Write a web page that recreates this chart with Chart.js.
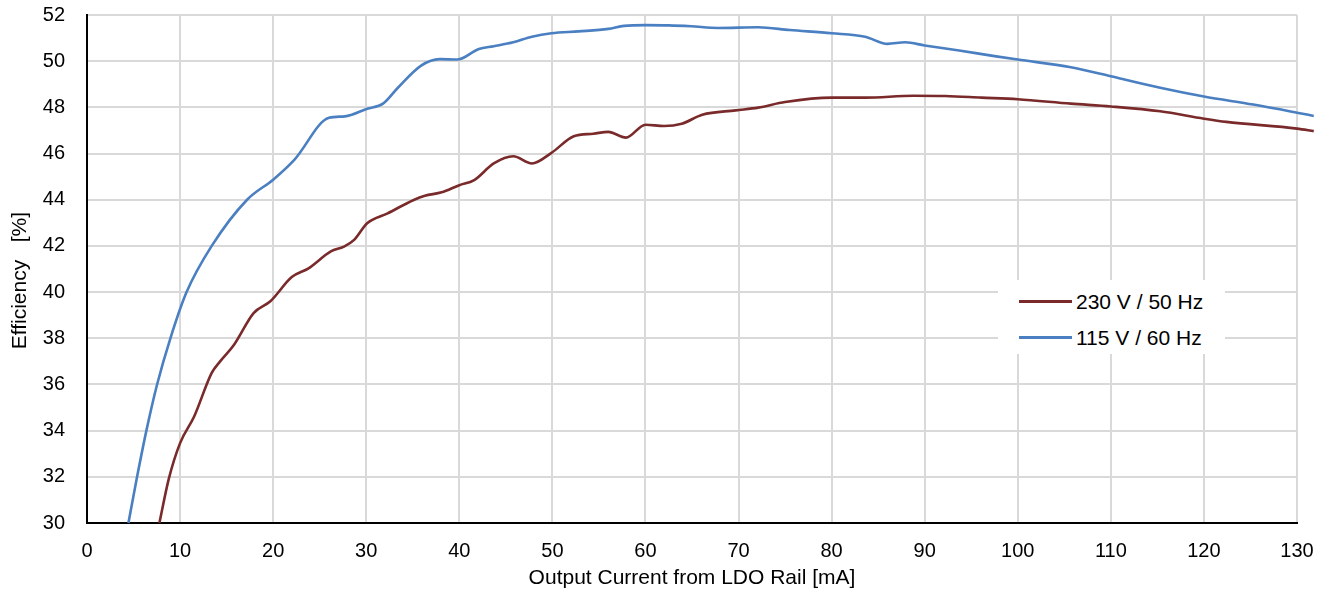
<!DOCTYPE html>
<html>
<head>
<meta charset="utf-8">
<script src="https://cdn.jsdelivr.net/npm/chart.js@4.4.1/dist/chart.umd.min.js"></script>
<style>
  html, body { margin: 0; padding: 0; background: #fff; }
  #wrap { position: relative; width: 1325px; height: 597px; }
  #legend { position: absolute; left: 998px; top: 280px; width: 227px; height: 74px; background: #fff;
            font-family: "Liberation Sans", Arial, Helvetica, sans-serif; font-size: 21px; color: #000; }
  .row { position: absolute; left: 0; height: 24px; width: 100%; }
  .swatch { position: absolute; left: 21px; width: 53px; height: 3px; top: 10px; }
  .lbl { position: absolute; left: 78px; top: 0; line-height: 24px; white-space: nowrap; }
</style>
</head>
<body>
<div id="wrap">
  <canvas id="c" width="1325" height="597"></canvas>
  <div id="legend"></div>
</div>
<script>
// ---- data ----
const seriesNames = ["230 V / 50 Hz", "115 V / 60 Hz"];
const seriesColors = ["#7a2a2a", "#4a7fc1"];

const redX = [7.78, 8.78, 10.0, 11.5, 13.4, 14.3, 15.8, 17.9, 19.7, 22.0, 23.8, 26.2, 27.6, 28.7, 30.1, 32.3, 35.1, 36.3, 38.1, 40, 41.6, 43.7, 45.8, 47.8, 49.9, 52.3, 54.4, 56.0, 57.9, 60, 62, 63.9, 66.1, 69.7, 72.1, 75.0, 80, 83.6, 88.8, 92.2, 96.1, 100, 105.7, 110, 115.3, 120, 122.4, 130, 131.8];
const redY = [30, 31.9, 33.46, 34.6, 36.5, 37.0, 37.72, 39.09, 39.6, 40.65, 41.03, 41.76, 41.97, 42.26, 42.98, 43.41, 43.99, 44.17, 44.32, 44.63, 44.85, 45.57, 45.88, 45.57, 46.03, 46.75, 46.86, 46.94, 46.69, 47.25, 47.19, 47.29, 47.68, 47.87, 47.99, 48.23, 48.42, 48.42, 48.50, 48.49, 48.42, 48.35, 48.16, 48.04, 47.83, 47.51, 47.37, 47.08, 46.97];

const blueX = [4.45, 5.38, 6.38, 7.53, 8.96, 10.7, 13.4, 17.2, 20, 22.3, 26.0, 27.7, 30.1, 31.8, 33.4, 35.9, 37.9, 39.8, 42.1, 43.7, 45.8, 47.8, 49.9, 52.8, 56.0, 57.7, 60, 62.5, 64.9, 67.8, 72.1, 75.5, 80, 83.6, 86.0, 87.9, 90, 93.7, 97.5, 100, 105.7, 110, 115.3, 120, 125.3, 130, 131.8];
const blueY = [30.0, 32, 34, 36, 38, 40, 42, 44, 44.87, 45.74, 47.55, 47.61, 47.94, 48.16, 48.85, 49.81, 50.09, 50.07, 50.53, 50.65, 50.82, 51.06, 51.21, 51.29, 51.40, 51.53, 51.56, 51.55, 51.51, 51.44, 51.47, 51.35, 51.21, 51.06, 50.75, 50.82, 50.68, 50.46, 50.22, 50.07, 49.74, 49.35, 48.85, 48.47, 48.12, 47.77, 47.63];

const xMin = 0, xMax = 130, xStep = 10;
const yMin = 30, yMax = 52, yStep = 2;
const xTitle = "Output Current from LDO Rail [mA]";
const yTitle = "Efficiency   [%]    ";

const FONT = "'Liberation Sans', Arial, Helvetica, sans-serif";

function pts(xs, ys) { return xs.map((x, i) => ({ x: x, y: ys[i] })); }

const datasets = [
  { label: seriesNames[0], data: pts(redX, redY), borderColor: seriesColors[0] },
  { label: seriesNames[1], data: pts(blueX, blueY), borderColor: seriesColors[1] }
].map(d => Object.assign(d, {
  borderWidth: 2.6, pointRadius: 0, fill: false, showLine: true,
  cubicInterpolationMode: 'monotone', clip: false
}));

new Chart(document.getElementById('c'), {
  type: 'scatter',
  data: { datasets: datasets },
  options: {
    responsive: false,
    animation: false,
    devicePixelRatio: 1,
    layout: { padding: { left: 0, right: 28, top: 15, bottom: 0 } },
    plugins: { legend: { display: false }, tooltip: { enabled: false } },
    scales: {
      x: {
        type: 'linear',
        afterDataLimits: s => { s.min = xMin; s.max = xMax; },
        afterFit: s => { s.height = 74; s.paddingLeft = 0; s.paddingRight = 0; },
        ticks: { stepSize: xStep, padding: 16, color: '#000', font: { family: FONT, size: 20 } },
        grid: { color: '#d9d9d9', lineWidth: 2, drawTicks: false },
        border: { color: '#000', width: 2 },
        title: { display: true, text: xTitle, color: '#000', font: { family: FONT, size: 21 }, padding: { top: 0, bottom: 6 } }
      },
      y: {
        type: 'linear', min: yMin, max: yMax,
        afterFit: s => { s.width = 87; s.paddingTop = 0; s.paddingBottom = 0; },
        ticks: { stepSize: yStep, padding: 22, color: '#000', font: { family: FONT, size: 20 } },
        grid: { color: '#d9d9d9', lineWidth: 2, drawTicks: false },
        border: { color: '#000', width: 2 },
        title: { display: true, text: yTitle, color: '#000', font: { family: FONT, size: 21 }, padding: { top: 8, bottom: 0 } }
      }
    }
  }
});

// legend (HTML overlay)
const leg = document.getElementById('legend');
const rowTops = [10, 46];
seriesNames.forEach((n, i) => {
  const r = document.createElement('div');
  r.className = 'row';
  r.style.top = rowTops[i] + 'px';
  const sw = document.createElement('div');
  sw.className = 'swatch';
  sw.style.background = seriesColors[i];
  const t = document.createElement('div');
  t.className = 'lbl';
  t.textContent = n;
  r.appendChild(sw); r.appendChild(t);
  leg.appendChild(r);
});
</script>
</body>
</html>
